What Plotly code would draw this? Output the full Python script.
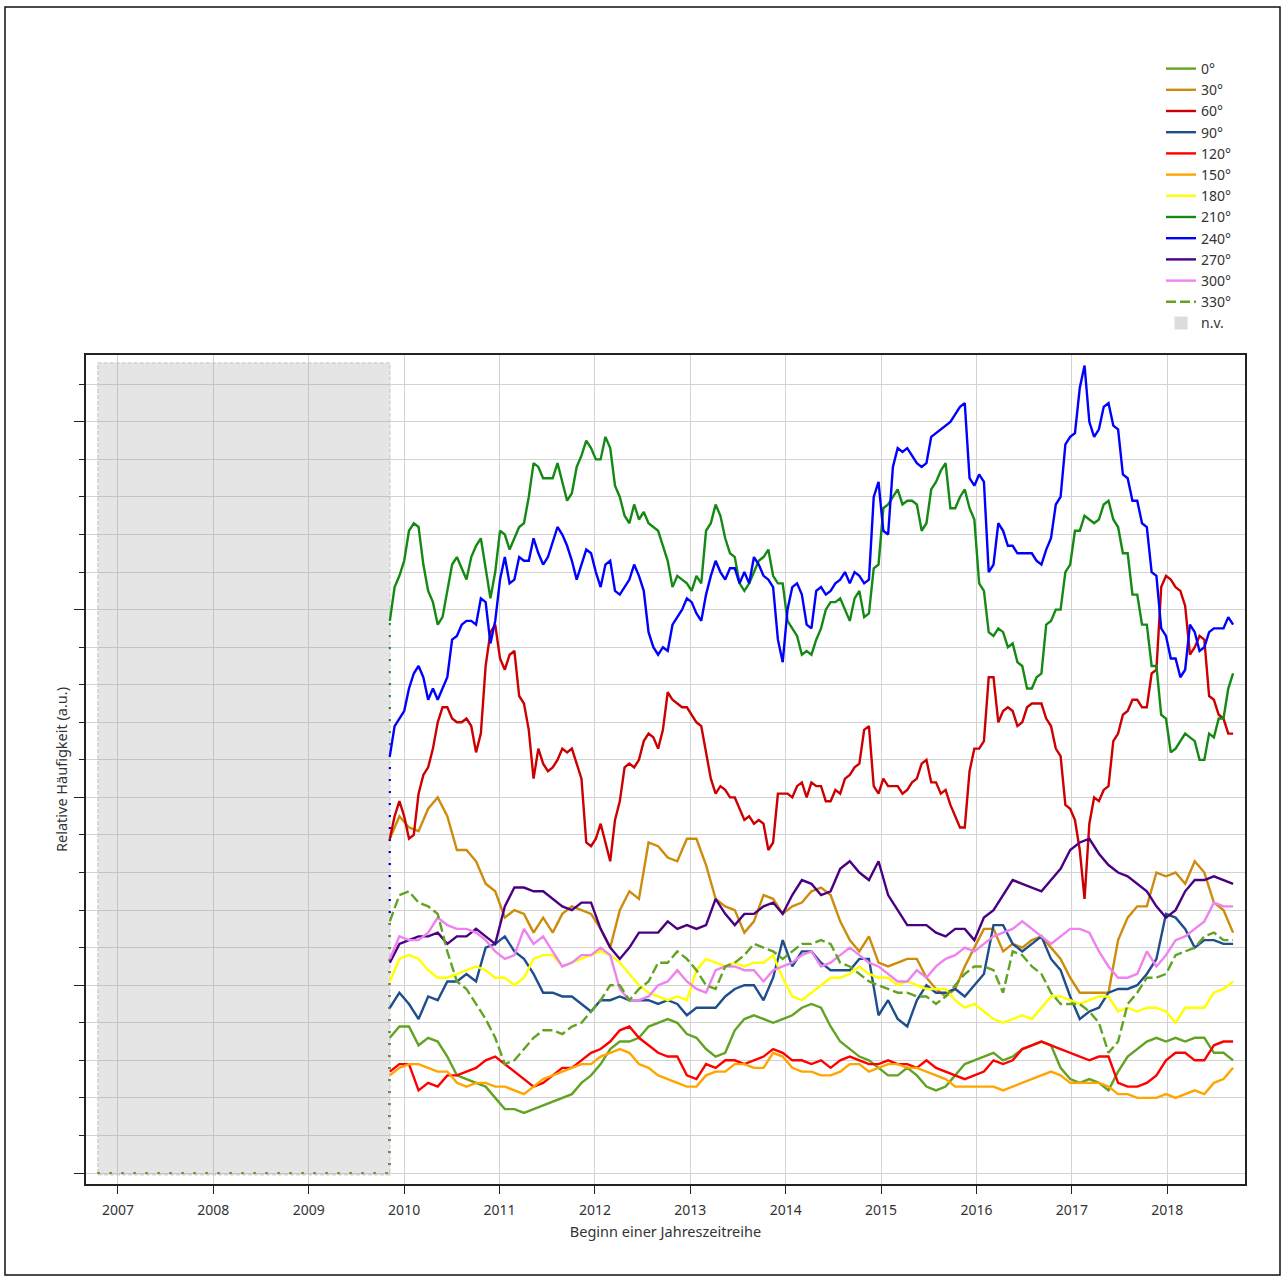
import numpy as np
import plotly.graph_objects as go

# ---------------- data ----------------
T_START, T_END = 2009.85, 2018.69          # first / last start of a one-year window
NV_START, NV_END, NV_TOP = 2006.79, 2009.85, 21.57   # "n.v." (no data) period

year_ticks = [2007, 2008, 2009, 2010, 2011, 2012, 2013, 2014, 2015, 2016, 2017, 2018]

labels = ["0°", "30°", "60°", "90°", "120°", "150°", "180°", "210°", "240°", "270°", "300°", "330°"]

v0 = [3.6, 3.9, 3.9, 3.4, 3.6, 3.5, 3.1, 2.6, 2.5, 2.4,
      2.3, 2.0, 1.7, 1.7, 1.6, 1.7, 1.8, 1.9, 2.0, 2.1,
      2.4, 2.6, 2.9, 3.3, 3.5, 3.5, 3.6, 3.9, 4.0, 4.1,
      4.0, 3.7, 3.6, 3.3, 3.1, 3.2, 3.8, 4.1, 4.2, 4.1,
      4.0, 4.1, 4.2, 4.4, 4.5, 4.4, 3.9, 3.5, 3.3, 3.1,
      3.0, 2.8, 2.6, 2.6, 2.8, 2.6, 2.3, 2.2, 2.3, 2.6,
      2.9, 3.0, 3.1, 3.2, 3.0, 3.1, 3.3, 3.4, 3.5, 3.4,
      2.8, 2.5, 2.4, 2.5, 2.4, 2.2, 2.7, 3.1, 3.3, 3.5,
      3.6, 3.5, 3.6, 3.5, 3.6, 3.6, 3.2, 3.2, 3.0]

v30 = [8.9, 9.5, 9.2, 9.1, 9.7, 10.0, 9.5, 8.6, 8.6, 8.3,
       7.7, 7.5, 6.8, 7.0, 6.9, 6.4, 6.8, 6.4, 6.9, 7.1,
       7.0, 6.9, 6.5, 6.0, 7.0, 7.5, 7.3, 8.8, 8.7, 8.4,
       8.3, 8.9, 8.9, 8.2, 7.3, 7.1, 7.0, 6.4, 6.7, 7.4,
       7.3, 6.9, 7.1, 7.2, 7.5, 7.6, 7.4, 6.7, 6.2, 5.9,
       6.3, 5.6, 5.5, 5.6, 5.7, 5.7, 5.2, 4.9, 4.7, 4.9,
       5.5, 6.0, 6.5, 6.5, 5.9, 6.1, 6.0, 6.2, 6.3, 6.0,
       5.7, 5.2, 4.8, 4.8, 4.8, 4.8, 6.2, 6.8, 7.1, 7.1,
       8.0, 7.9, 8.0, 7.7, 8.3, 8.0, 7.2, 7.0, 6.4]

v60 = [8.9, 9.5, 9.9, 9.5, 8.9, 9.0, 10.1, 10.6, 10.8, 11.3,
       12.0, 12.4, 12.4, 12.1, 12.0, 12.0, 12.1, 11.9, 11.2, 11.7,
       13.5, 14.4, 14.6, 13.7, 13.4, 13.8, 13.9, 12.7, 12.5, 11.8,
       10.5, 11.3, 10.9, 10.7, 10.8, 11.0, 11.3, 11.2, 11.3, 10.9,
       10.5, 8.8, 8.7, 8.9, 9.3, 8.8, 8.3, 9.4, 9.9, 10.8,
       10.9, 10.8, 11.0, 11.5, 11.7, 11.6, 11.3, 11.8, 12.8, 12.6,
       12.5, 12.4, 12.4, 12.2, 12.0, 11.9, 11.2, 10.5, 10.1, 10.3,
       10.2, 10.0, 10.0, 9.7, 9.4, 9.5, 9.3, 9.4, 9.3, 8.6,
       8.8, 10.1, 10.1, 10.1, 10.0, 10.3, 10.4, 10.0, 10.4, 10.3,
       10.3, 9.9, 9.9, 10.2, 10.1, 10.5, 10.6, 10.8, 10.9, 11.8,
       11.9, 10.3, 10.1, 10.5, 10.3, 10.3, 10.3, 10.1, 10.2, 10.4,
       10.5, 10.9, 11.0, 10.4, 10.4, 10.1, 10.2, 9.8, 9.5, 9.2,
       9.2, 10.7, 11.3, 11.3, 11.5, 13.2, 13.2, 12.0, 12.3, 12.4,
       12.3, 11.9, 12.0, 12.4, 12.5, 12.5, 12.5, 12.1, 11.9, 11.3,
       11.1, 9.8, 9.7, 9.4, 8.6, 7.3, 9.3, 10.0, 9.9, 10.2,
       10.3, 11.5, 11.7, 12.2, 12.3, 12.6, 12.6, 12.4, 12.4, 13.3,
       13.4, 15.6, 15.9, 15.8, 15.6, 15.5, 15.1, 13.8, 14.0, 14.3,
       14.2, 12.7, 12.6, 12.2, 12.1, 11.7, 11.7]

v90 = [4.4, 4.8, 4.5, 4.1, 4.7, 4.6, 5.1, 5.1, 5.3, 5.1,
       6.0, 6.1, 6.3, 5.9, 5.7, 5.3, 4.8, 4.8, 4.7, 4.7,
       4.5, 4.3, 4.6, 4.6, 4.7, 4.6, 4.6, 4.6, 4.5, 4.6,
       4.5, 4.2, 4.4, 4.4, 4.4, 4.7, 4.9, 5.0, 5.0, 4.6,
       5.2, 6.2, 5.5, 5.9, 5.9, 5.6, 5.4, 5.4, 5.4, 5.7,
       5.7, 4.2, 4.6, 4.1, 3.9, 4.6, 5.0, 4.8, 4.8, 4.9,
       4.7, 5.0, 5.3, 6.6, 6.6, 6.1, 5.9, 6.1, 6.3, 5.7,
       5.4, 4.7, 4.1, 4.3, 4.4, 4.8, 4.9, 4.9, 5.0, 5.3,
       5.7, 6.9, 6.8, 6.5, 6.0, 6.2, 6.2, 6.1, 6.1]

v120 = [2.7, 2.9, 2.9, 2.2, 2.4, 2.3, 2.6, 2.6, 2.7, 2.8,
        3.0, 3.1, 2.9, 2.7, 2.5, 2.3, 2.4, 2.6, 2.8, 2.8,
        3.0, 3.2, 3.3, 3.5, 3.8, 3.9, 3.6, 3.4, 3.2, 3.1,
        3.1, 2.6, 2.5, 2.9, 2.8, 3.0, 3.0, 2.9, 3.0, 3.1,
        3.3, 3.2, 3.0, 3.0, 2.9, 3.0, 2.8, 3.0, 3.1, 3.0,
        2.9, 2.9, 3.0, 2.9, 2.9, 2.8, 3.0, 2.8, 2.7, 2.6,
        2.5, 2.6, 2.7, 3.0, 2.9, 3.0, 3.3, 3.4, 3.5, 3.4,
        3.3, 3.2, 3.1, 3.0, 3.1, 3.1, 2.4, 2.3, 2.3, 2.4,
        2.6, 3.0, 3.2, 3.2, 3.0, 3.0, 3.4, 3.5, 3.5]

v150 = [2.6, 2.8, 2.9, 2.9, 2.8, 2.7, 2.7, 2.4, 2.3, 2.4,
        2.4, 2.3, 2.3, 2.2, 2.1, 2.3, 2.5, 2.6, 2.7, 2.8,
        2.9, 2.9, 3.1, 3.2, 3.3, 3.2, 2.9, 2.8, 2.6, 2.5,
        2.4, 2.3, 2.3, 2.6, 2.7, 2.7, 2.9, 2.9, 2.8, 2.8,
        3.2, 3.1, 2.8, 2.7, 2.7, 2.6, 2.6, 2.7, 2.9, 2.9,
        2.7, 2.8, 2.9, 2.9, 2.8, 2.8, 2.7, 2.6, 2.5, 2.3,
        2.3, 2.3, 2.3, 2.3, 2.2, 2.3, 2.4, 2.5, 2.6, 2.7,
        2.6, 2.4, 2.4, 2.4, 2.4, 2.3, 2.1, 2.1, 2.0, 2.0,
        2.0, 2.1, 2.0, 2.1, 2.2, 2.1, 2.4, 2.5, 2.8]

v180 = [5.1, 5.7, 5.8, 5.7, 5.4, 5.2, 5.2, 5.3, 5.4, 5.5,
        5.4, 5.2, 5.2, 5.0, 5.2, 5.7, 5.8, 5.8, 5.5, 5.6,
        5.7, 5.8, 5.9, 5.8, 5.6, 5.3, 5.0, 4.8, 4.7, 4.6,
        4.7, 4.6, 5.4, 5.7, 5.6, 5.5, 5.6, 5.5, 5.6, 5.6,
        5.8, 5.2, 4.7, 4.6, 4.8, 5.0, 5.2, 5.2, 5.3, 5.5,
        5.3, 5.2, 5.2, 5.0, 5.1, 5.0, 4.9, 4.9, 4.9, 4.6,
        4.4, 4.5, 4.3, 4.1, 4.0, 4.1, 4.2, 4.1, 4.4, 4.7,
        4.7, 4.6, 4.5, 4.6, 4.7, 4.7, 4.3, 4.4, 4.3, 4.4,
        4.4, 4.3, 4.0, 4.4, 4.4, 4.4, 4.8, 4.9, 5.1]

v210 = [14.7, 15.6, 15.9, 16.3, 17.1, 17.3, 17.2, 16.2, 15.5, 15.2,
        14.6, 14.8, 15.5, 16.2, 16.4, 16.1, 15.8, 16.4, 16.7, 16.9,
        16.1, 15.3, 16.0, 17.1, 17.0, 16.6, 16.9, 17.2, 17.3, 18.0,
        18.9, 18.8, 18.5, 18.5, 18.5, 18.9, 18.4, 17.9, 18.1, 18.8,
        19.1, 19.5, 19.3, 19.0, 19.0, 19.6, 19.3, 18.3, 18.0, 17.5,
        17.3, 17.8, 17.4, 17.6, 17.3, 17.2, 17.1, 16.7, 16.3, 15.6,
        15.9, 15.8, 15.7, 15.5, 15.9, 15.7, 17.1, 17.3, 17.8, 17.5,
        16.9, 16.5, 16.4, 15.7, 15.5, 15.7, 16.0, 16.3, 16.4, 16.6,
        15.9, 15.7, 15.7, 14.7, 14.5, 14.3, 13.8, 13.9, 13.8, 14.2,
        14.5, 15.0, 15.2, 15.2, 15.3, 15.0, 14.7, 15.3, 15.5, 14.8,
        14.9, 16.1, 16.2, 17.7, 17.8, 18.0, 18.2, 17.8, 17.9, 17.9,
        17.8, 17.1, 17.3, 18.2, 18.4, 18.7, 18.9, 17.7, 17.7, 18.0,
        18.2, 17.7, 17.4, 15.7, 15.5, 14.4, 14.3, 14.5, 14.4, 14.0,
        14.1, 13.6, 13.5, 12.9, 12.9, 13.2, 13.3, 14.6, 14.7, 15.0,
        15.0, 16.0, 16.2, 17.1, 17.1, 17.5, 17.4, 17.3, 17.4, 17.8,
        17.9, 17.4, 17.2, 16.5, 16.5, 15.4, 15.4, 14.6, 14.6, 13.5,
        13.5, 12.2, 12.1, 11.2, 11.3, 11.5, 11.7, 11.6, 11.5, 11.0,
        11.0, 11.7, 11.6, 12.1, 12.1, 12.9, 13.3]

v240 = [11.1, 11.9, 12.1, 12.3, 12.9, 13.3, 13.5, 13.2, 12.6, 12.9,
        12.6, 12.9, 13.2, 14.2, 14.3, 14.6, 14.7, 14.7, 14.6, 15.3,
        15.2, 14.1, 14.7, 15.8, 16.4, 15.7, 15.8, 16.4, 16.3, 16.3,
        16.9, 16.5, 16.2, 16.4, 16.8, 17.2, 17.0, 16.7, 16.3, 15.8,
        16.2, 16.6, 16.5, 16.0, 15.6, 16.2, 16.3, 15.5, 15.4, 15.6,
        15.8, 16.2, 15.9, 15.5, 14.4, 14.0, 13.8, 14.0, 13.9, 14.6,
        14.8, 15.0, 15.3, 15.2, 14.9, 14.7, 15.4, 15.9, 16.3, 16.0,
        15.8, 16.1, 16.1, 15.7, 16.0, 15.7, 16.4, 16.2, 15.9, 15.8,
        15.6, 14.2, 13.6, 15.0, 15.6, 15.7, 15.4, 14.6, 14.5, 15.5,
        15.6, 15.4, 15.5, 15.7, 15.8, 16.0, 15.7, 16.0, 15.9, 15.7,
        15.8, 18.0, 18.4, 17.1, 17.0, 18.8, 19.3, 19.2, 19.3, 19.1,
        18.9, 18.8, 18.9, 19.6, 19.7, 19.8, 19.9, 20.0, 20.2, 20.4,
        20.5, 18.5, 18.3, 18.6, 18.4, 16.0, 16.2, 17.3, 17.1, 16.7,
        16.7, 16.5, 16.5, 16.5, 16.5, 16.3, 16.2, 16.6, 16.9, 17.8,
        18.0, 19.4, 19.6, 19.7, 20.9, 21.5, 20.0, 19.6, 19.8, 20.4,
        20.5, 19.9, 19.8, 18.6, 18.5, 17.9, 17.9, 17.3, 17.2, 16.0,
        15.9, 14.5, 14.3, 13.7, 13.7, 13.2, 13.4, 14.6, 14.4, 13.9,
        14.0, 14.4, 14.5, 14.5, 14.5, 14.8, 14.6]

v270 = [5.6, 6.1, 6.2, 6.3, 6.3, 6.4, 6.1, 6.3, 6.3, 6.5,
        6.3, 6.1, 7.1, 7.6, 7.6, 7.5, 7.5, 7.3, 7.1, 7.0,
        7.2, 7.2, 6.5, 6.0, 5.7, 6.0, 6.4, 6.4, 6.4, 6.7,
        6.5, 6.6, 6.5, 6.6, 7.3, 6.9, 6.6, 6.9, 6.9, 7.1,
        7.2, 6.9, 7.4, 7.8, 7.7, 7.4, 7.5, 8.1, 8.3, 8.0,
        7.8, 8.3, 7.4, 7.0, 6.6, 6.6, 6.6, 6.4, 6.3, 6.5,
        6.5, 6.2, 6.8, 7.0, 7.4, 7.8, 7.7, 7.6, 7.5, 7.8,
        8.1, 8.6, 8.8, 8.9, 8.5, 8.2, 8.0, 7.9, 7.7, 7.5,
        7.1, 6.8, 7.0, 7.5, 7.8, 7.8, 7.9, 7.8, 7.7]

v300 = [5.7, 6.3, 6.2, 6.2, 6.4, 6.8, 6.6, 6.5, 6.5, 6.4,
        6.2, 5.9, 5.7, 5.8, 6.5, 6.1, 6.3, 5.9, 5.5, 5.6,
        5.8, 5.8, 6.0, 5.8, 4.9, 4.6, 4.6, 4.7, 5.0, 5.1,
        5.4, 5.1, 4.9, 4.8, 5.4, 5.5, 5.5, 5.4, 5.4, 5.1,
        5.4, 5.5, 5.6, 5.8, 5.9, 5.5, 5.6, 5.8, 6.0, 5.8,
        5.6, 5.5, 5.3, 5.1, 5.1, 5.4, 5.2, 5.5, 5.7, 5.8,
        6.0, 5.9, 6.1, 6.3, 6.4, 6.5, 6.7, 6.5, 6.3, 6.1,
        6.3, 6.5, 6.5, 6.4, 5.9, 5.5, 5.2, 5.2, 5.3, 5.9,
        5.5, 5.8, 6.2, 6.3, 6.5, 6.7, 7.2, 7.1, 7.1]

v330 = [6.7, 7.4, 7.5, 7.2, 7.1, 6.9, 5.9, 5.1, 4.9, 4.5,
        4.1, 3.6, 2.9, 3.0, 3.3, 3.6, 3.8, 3.8, 3.7, 3.9,
        4.0, 4.3, 4.6, 5.0, 5.0, 4.6, 4.9, 5.1, 5.6, 5.6,
        5.9, 5.7, 5.4, 5.0, 4.9, 5.5, 5.6, 5.8, 6.1, 6.0,
        5.9, 5.7, 5.9, 6.1, 6.1, 6.2, 6.1, 5.6, 5.5, 5.3,
        5.1, 5.0, 4.9, 4.8, 4.8, 4.7, 4.7, 4.5, 4.7, 5.0,
        5.3, 5.5, 5.5, 5.4, 4.8, 5.9, 5.8, 5.5, 5.3, 4.8,
        4.5, 4.5, 4.5, 4.3, 4.0, 3.2, 3.5, 4.5, 4.8, 5.2,
        5.2, 5.3, 5.8, 5.9, 6.0, 6.3, 6.4, 6.2, 6.2]

series = [v0, v30, v60, v90, v120, v150, v180, v210, v240, v270, v300, v330]

# ---------------- styles ----------------
colors = ["#62A323", "#CD8C0C", "#CC0000", "#1F4E8C", "#FF0000", "#FFA500",
          "#FFFF00", "#148A14", "#0000FF", "#4B0082", "#EE82EE", "#62A323"]
dashes = ["solid"] * 11 + ["10px,4px"]

FONT = "Noto Sans"
TXT = "#333333"

fig = go.Figure()

# n.v. region (semi-transparent so grid lines show through)
fig.add_trace(go.Scatter(
    x=[NV_START, NV_END, NV_END, NV_START, NV_START],
    y=[-0.05, -0.05, NV_TOP, NV_TOP, -0.05],
    mode="lines", fill="toself",
    fillcolor="rgba(150,150,150,0.25)",
    line=dict(color="rgba(205,205,205,0.9)", width=1.5, dash="4px,2px"),
    name="n.v.", showlegend=False, hoverinfo="skip"))

# dotted zero segments in the n.v. period
for vals, col in zip(series, colors):
    fig.add_trace(go.Scatter(
        x=[NV_START, NV_END, NV_END], y=[0, 0, vals[0]],
        mode="lines", line=dict(color=col, width=2, dash="2px,10px"),
        showlegend=False, hoverinfo="skip"))

for name, vals, col, dsh in zip(labels, series, colors, dashes):
    t = np.linspace(T_START, T_END, len(vals))
    fig.add_trace(go.Scatter(
        x=t, y=vals, mode="lines", name=name,
        line=dict(color=col, width=2.4, dash=dsh)))

# legend entry for n.v.
fig.add_trace(go.Scatter(
    x=[None], y=[None], mode="markers",
    marker=dict(symbol="square", size=13, color="#DCDCDC"),
    name="n.v."))

W, H = 1285, 1281
L, R, T, B = 86, 40, 355, 97
pw, ph = W - L - R, H - T - B


def px2paper_x(px):
    return (px - L) / pw


def px2paper_y(py):
    return (H - B - py) / ph


fig.update_layout(
    width=W, height=H,
    margin=dict(l=L, r=R, t=T, b=B),
    paper_bgcolor="white", plot_bgcolor="white",
    font=dict(family=FONT, size=14, color=TXT),
    showlegend=True,
    legend=dict(x=px2paper_x(1161), y=px2paper_y(53), xanchor="left", yanchor="top",
                font=dict(size=14, color=TXT), bgcolor="rgba(0,0,0,0)",
                borderwidth=0, tracegroupgap=0),
    xaxis=dict(range=[2006.665, 2018.815], tickvals=year_ticks,
               ticktext=[str(y) for y in year_ticks],
               ticks="outside", ticklen=8, tickcolor="#222", tickwidth=1.2,
               ticklabelstandoff=4,
               showgrid=True, gridcolor="#D3D3D3", gridwidth=1,
               showline=True, linecolor="#222", linewidth=1.5, mirror=True,
               zeroline=False, tickfont=dict(size=14, color=TXT),
               title=dict(text="Beginn einer Jahreszeitreihe", font=dict(size=14.5, color=TXT),
                          standoff=9)),
    yaxis=dict(range=[-0.293, 21.78], tick0=0, dtick=5,
               ticks="outside", ticklen=10, tickcolor="#222", tickwidth=1.2,
               showticklabels=False,
               showgrid=True, gridcolor="#D3D3D3", gridwidth=1,
               minor=dict(dtick=1, tick0=0, ticks="outside", ticklen=5, tickcolor="#222",
                          tickwidth=1.2, showgrid=True, gridcolor="#D3D3D3", gridwidth=1),
               showline=True, linecolor="#222", linewidth=1.5, mirror=True,
               zeroline=False,
               title=dict(text="Relative Häufigkeit (a.u.)", font=dict(size=14.5, color=TXT),
                          standoff=3)),
    shapes=[dict(type="rect", xref="paper", yref="paper",
                 x0=px2paper_x(5), x1=px2paper_x(1280),
                 y0=px2paper_y(1275), y1=px2paper_y(7),
                 line=dict(color="#111", width=1.5), fillcolor="rgba(0,0,0,0)",
                 layer="below")],
)

fig.write_html("out.html", config={"displayModeBar": False},
               post_script="document.body.style.margin='0px';")
